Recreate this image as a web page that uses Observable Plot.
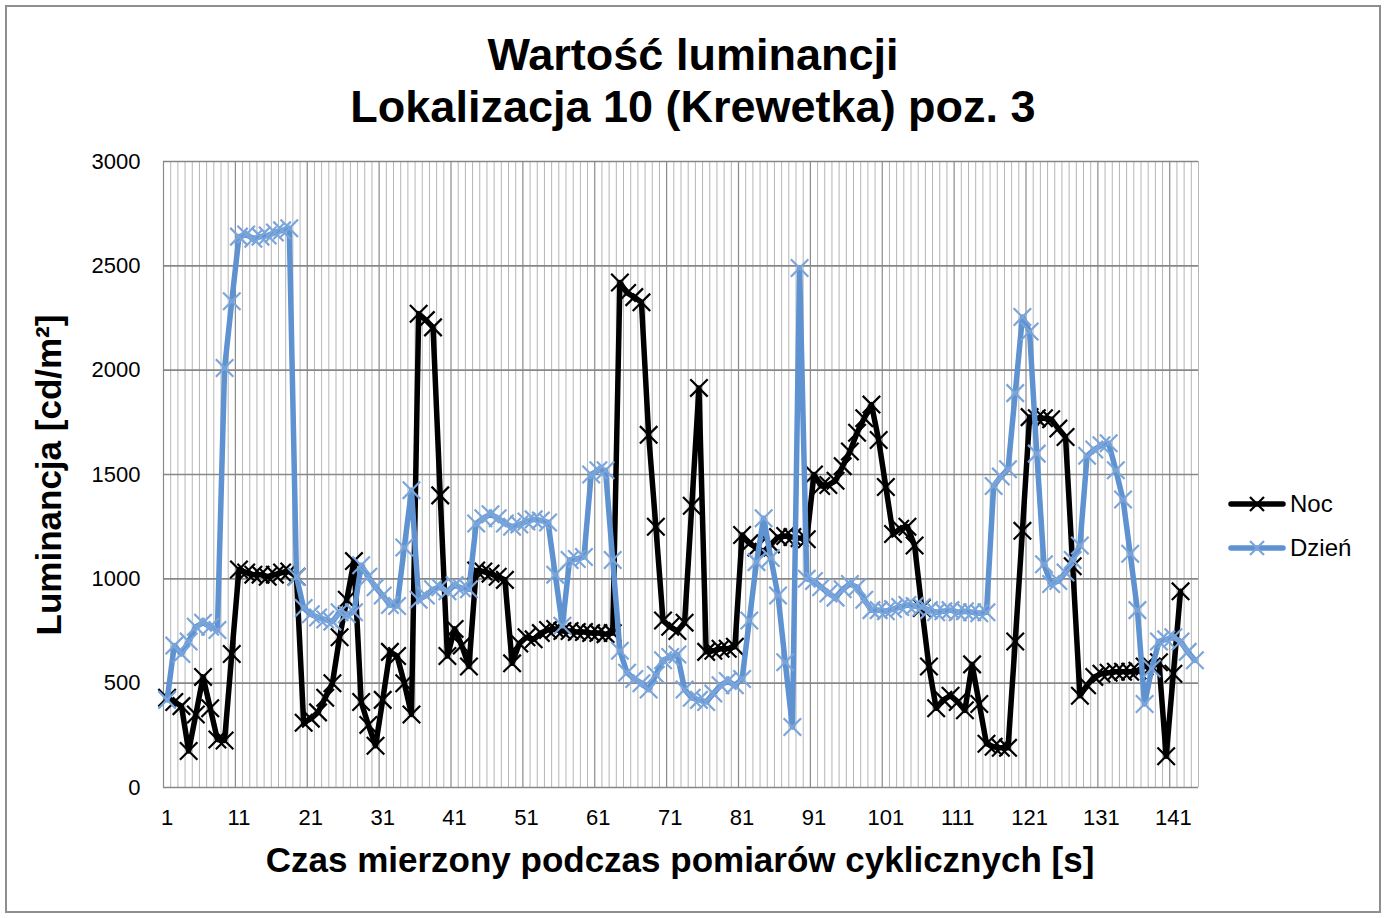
<!DOCTYPE html>
<html>
<head>
<meta charset="utf-8">
<script src="https://cdn.jsdelivr.net/npm/d3@7"></script>
<script src="https://cdn.jsdelivr.net/npm/@observablehq/plot@0.6"></script>
<style>
  body { margin: 0; background: #fff; font-family: "Liberation Sans", Arial, sans-serif; }
  #wrap { position: relative; width: 1386px; height: 918px; overflow: hidden; }
  #frame { position: absolute; left: 5px; top: 5px; width: 1376px; height: 908px; border: 2px solid #8e8e8e; box-sizing: border-box; }
  #chart { position: absolute; left: 0; top: 0; }
  #title { position: absolute; left: 0; width: 1386px; top: 29px; text-align: center; font-weight: bold; font-size: 45px; line-height: 52px; color: #000; }
  #xtitle { position: absolute; left: 0; width: 1360px; top: 842px; text-align: center; font-weight: bold; font-size: 35px; line-height: 35px; }
  #ytitle { position: absolute; left: 48px; top: 475px; transform: translate(-50%, -50%) rotate(-90deg); white-space: nowrap; font-weight: bold; font-size: 35px; line-height: 35px; }
  #legend { position: absolute; left: 1228px; top: 482px; }
  .lg { display: flex; align-items: center; height: 44px; font-size: 24px; }
  .lg svg { margin-right: 4px; }
</style>
</head>
<body>
<div id="wrap">
  <div id="chart"></div>
  <div id="frame"></div>
  <div id="title">Wartość luminancji<br>Lokalizacja 10 (Krewetka) poz. 3</div>
  <div id="xtitle">Czas mierzony podczas pomiarów cyklicznych [s]</div>
  <div id="ytitle">Luminancja [cd/m²]</div>
  <div id="legend"></div>
</div>
<script>
// ---- data ----
const seriesNames = ["Noc", "Dzień"];
const seriesColors = ["#000000", "#5e92d0"];
const markerColors = ["#000000", "#7aa5db"];

const noc = [
  430, 410, 390, 175, 350, 530, 380, 230, 225, 640,
  1045, 1030, 1020, 1020, 1010, 1020, 1030, 1035, 1010, 310,
  330, 360, 430, 500, 720, 900, 1085, 410, 300, 200,
  420, 650, 630, 500, 350, 2270, 2240, 2205, 1400, 630,
  760, 680, 580, 1040, 1035, 1025, 1010, 995, 595, 690,
  720, 710, 740, 755, 760, 750, 750, 745, 745, 740,
  740, 735, 740, 2420, 2370, 2350, 2325, 1690, 1250, 800,
  770, 750, 790, 1350, 1915, 650, 655, 665, 665, 675,
  1210, 1170, 1150, 1130, 1165, 1200, 1205, 1200, 1195, 1190,
  1500, 1445, 1450, 1470, 1540, 1610, 1700, 1770, 1835, 1665,
  1440, 1215, 1240, 1250, 1160, 860, 580, 380, 420, 440,
  410, 370, 590, 400, 210, 195, 190, 190, 700, 1230,
  1775, 1770, 1770, 1765, 1720, 1680, 1060, 440, 490, 530,
  545, 550, 555, 555, 555, 560, 580, 580, 600, 150,
  545, 940
];

const dzien = [
  420, 680, 640, 700, 770, 790, 770, 755, 2010, 2330,
  2640, 2650, 2630, 2640, 2645, 2660, 2670, 2680, 1010, 860,
  830, 815, 805, 795, 840, 830, 840, 1065, 1010, 960,
  920, 875, 870, 1150, 1425, 900, 920, 950, 960, 940,
  970, 955, 950, 1265, 1290, 1310, 1290, 1265, 1250, 1260,
  1275, 1285, 1280, 1270, 1020, 775, 1090, 1095, 1105, 1500,
  1520, 1520, 1090, 655, 550, 520, 500, 470, 540, 610,
  625, 637, 470, 430, 420, 410, 450, 490, 510, 490,
  520, 800, 1080, 1290, 1100, 920, 600, 290, 2490, 1000,
  990, 960, 930, 910, 950, 975, 960, 900, 850, 850,
  845, 855, 865, 875, 870, 865, 850, 840, 845, 850,
  840, 845, 840, 835, 840, 1445, 1490, 1525, 1890, 2255,
  2185, 1600, 1070, 975, 990, 1030, 1090, 1160, 1590, 1620,
  1640, 1650, 1520, 1380, 1120, 850, 400, 570, 700, 710,
  720, 700, 650, 610
];

const xTicks = [1, 11, 21, 31, 41, 51, 61, 71, 81, 91, 101, 111, 121, 131, 141];
const yTicks = [0, 500, 1000, 1500, 2000, 2500, 3000];

// ---- build ----
const nCat = Math.max(noc.length, dzien.length);
const rows = [
  ...noc.map((v, i) => ({ t: i + 1, v, s: seriesNames[0] })),
  ...dzien.map((v, i) => ({ t: i + 1, v, s: seriesNames[1] }))
];
const boundaries = d3.range(0, nCat + 1).map(k => k + 0.5);
const minorB = boundaries.filter((b, k) => k % 10 !== 0);
const majorB = boundaries.filter((b, k) => k % 10 === 0);

const marks = [
  Plot.ruleX(minorB, { stroke: "#b5b5b5", strokeWidth: 1 }),
  Plot.ruleX(majorB, { stroke: "#8a8a8a", strokeWidth: 1.2 }),
  Plot.ruleY(yTicks, { stroke: "#878787", strokeWidth: 1.6 }),
  Plot.axisY({ ticks: yTicks, tickSize: 0, tickPadding: 23, tickFormat: d => String(d), fontSize: 22, label: null }),
  Plot.axisX({ ticks: xTicks, tickSize: 0, tickPadding: 22, tickFormat: d => String(d), fontSize: 22, label: null })
];
seriesNames.forEach((name, j) => {
  const data = rows.filter(d => d.s === name);
  marks.push(Plot.line(data, { x: "t", y: "v", stroke: seriesColors[j], strokeWidth: 5.5, strokeLinejoin: "round", strokeLinecap: "round" }));
  marks.push(Plot.dot(data, { x: "t", y: "v", symbol: "times", r: 8, stroke: markerColors[j], strokeWidth: 2.2 }));
});

const chart = Plot.plot({
  width: 1386,
  height: 918,
  marginLeft: 163,
  marginRight: 188,
  marginTop: 161,
  marginBottom: 131,
  style: { fontFamily: "'Liberation Sans', Arial, sans-serif", fontSize: "22px", color: "#000", background: "transparent" },
  x: { type: "linear", domain: [0.5, nCat + 0.5] },
  y: { type: "linear", domain: [0, 3000] },
  marks
});
document.getElementById("chart").appendChild(chart);

// ---- legend ----
const legend = d3.select("#legend");
seriesNames.forEach((name, j) => {
  const row = legend.append("div").attr("class", "lg");
  const svg = row.append("svg").attr("width", 58).attr("height", 20);
  svg.append("line").attr("x1", 3).attr("x2", 55).attr("y1", 10).attr("y2", 10)
    .attr("stroke", seriesColors[j]).attr("stroke-width", 5.5).attr("stroke-linecap", "round");
  svg.append("path").attr("d", "M22,3L36,17M22,17L36,3").attr("stroke", markerColors[j]).attr("stroke-width", 2.2);
  row.append("span").text(name);
});
</script>
</body>
</html>
